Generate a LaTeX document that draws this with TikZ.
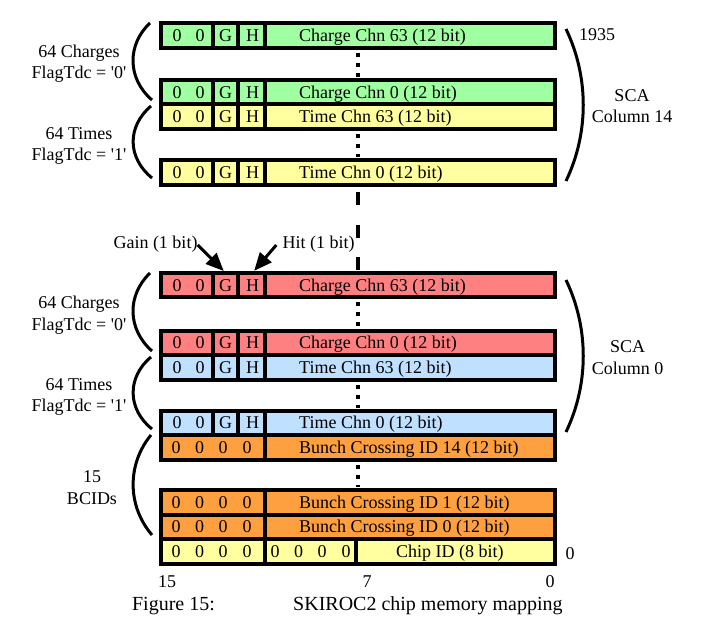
\documentclass[tikz,border=0pt]{standalone}
\usepackage{fontspec}
\setmainfont{Liberation Serif}
\usepackage{xcolor}
\usepackage{tikz}
\usetikzlibrary{arrows.meta, positioning}

\definecolor{chggreen}{RGB}{160,255,160}
\definecolor{timeyellow}{RGB}{255,255,160}
\definecolor{chgred}{RGB}{255,128,128}
\definecolor{timeblue}{RGB}{192,224,255}
\definecolor{bcidorange}{RGB}{255,160,64}

\begin{document}
\begin{tikzpicture}[x=1pt, y=-1pt, font=\fontsize{18}{21.5}\selectfont,
    word/.style={draw, line width=4pt, minimum width=393.4pt, minimum height=24.5pt, inner sep=0pt, outer sep=0pt},
    divider/.style={line width=3.6pt},
    bit/.style={inner sep=0pt, text height=12pt, text depth=0pt},
    note/.style={align=center, inner sep=0pt},
    paren/.style={line width=3pt},
    dots/.style={line width=4pt, dash pattern=on 4pt off 6pt, shorten <=5pt, shorten >=3pt},
    breakline/.style={line width=4pt, dash pattern=on 13pt off 19.5pt},
    pointer/.style={line width=3pt, -{Triangle[length=18pt, width=15pt]}, shorten >=2.5pt},
    capt/.style={inner sep=0pt, text height=13pt, text depth=0pt, font=\fontsize{20}{24}\selectfont}]

    \useasboundingbox (0,0) rectangle (720,640);

    \foreach \n/\y/\c/\t in {c63t/35.25/chggreen/Charge Chn 63, c0t/92/chggreen/Charge Chn 0,
                             t63t/116.5/timeyellow/Time Chn 63, t0t/172.25/timeyellow/Time Chn 0,
                             c63b/285/chgred/Charge Chn 63, c0b/342.75/chgred/Charge Chn 0,
                             t63b/367.25/timeblue/Time Chn 63, t0b/422.75/timeblue/Time Chn 0}{
        \node[word, fill=\c] (\n) at (358,\y) {};
        \foreach \s in {-145,-120,-93}
            \draw[divider] ([xshift=\s pt]\n.north) -- ([xshift=\s pt]\n.south);
        \node[bit] at (177,\y) {0};
        \node[bit] at (200,\y) {0};
        \node[bit] (\n-g) at (225.5,\y) {G};
        \node[bit] (\n-h) at (252.5,\y) {H};
        \node[bit, anchor=west] at (299,\y) {\t\ (12 bit)};
    }

    \foreach \n/\y/\t in {b14/447.25/14, b1/502.25/1, b0/526.75/0}{
        \node[word, fill=bcidorange] (\n) at (358,\y) {};
        \draw[divider] ([xshift=-93pt]\n.north) -- ([xshift=-93pt]\n.south);
        \foreach \x in {176,199.5,223,247}
            \node[bit] at (\x,\y) {0};
        \node[bit, anchor=west] at (299,\y) {Bunch Crossing ID \t\ (12 bit)};
    }

    \node[word, fill=timeyellow] (chip) at (358,551.25) {};
    \foreach \s in {-93,-2}
        \draw[divider] ([xshift=\s pt]chip.north) -- ([xshift=\s pt]chip.south);
    \foreach \x in {176,199.5,223,247,275,298.5,322,346}
        \node[bit] at (\x,551.25) {0};
    \node[bit, anchor=west] at (396,551.25) {Chip ID (8 bit)};

    \draw[dots] (c63t) -- (c0t);
    \draw[dots] (t63t) -- (t0t);
    \draw[dots] (c63b) -- (c0b);
    \draw[dots] (t63b) -- (t0b);
    \draw[dots] (b14) -- (b1);
    \draw[breakline, shorten <=7.5pt, shorten >=2.75pt] (t0t) -- (c63b);

    \node[bit] (gain) at (155.5,242) {Gain (1 bit)};
    \node[bit] (hit)  at (318.5,242) {Hit (1 bit)};
    \draw[pointer] ([yshift=-3pt]gain.east) -- (c63b-g |- c63b.north);
    \draw[pointer] ([xshift=-6pt,yshift=-3pt]hit.west) -- (c63b-h |- c63b.north);

    \node[note] (chgtop)  at (79,63.5)  {64 Charges\\FlagTdc = \textquotesingle0\textquotesingle};
    \node[note] (timetop) at (79,146)   {64 Times\\FlagTdc = \textquotesingle1\textquotesingle};
    \node[note] (chgbot)  at (79,315)   {64 Charges\\FlagTdc = \textquotesingle0\textquotesingle};
    \node[note] (timebot) at (79,397)   {64 Times\\FlagTdc = \textquotesingle1\textquotesingle};
    \node[note] (bcids)   at (92,487.5) {15\\BCIDs};
    \node[note] (scatop)  at (632,106)  {SCA\\Column 14};
    \node[note] (scabot)  at (627.5,357.5) {SCA\\Column 0};
    \node[bit] (addrtop) at (597,34)  {1935};
    \node[bit] (addrbot) at (570,553) {0};

    \draw[paren] (150,23)  .. controls (127,44.5) and (127,78.5)  .. (152,100);
    \draw[paren] (151,106) .. controls (127,126.5) and (127,157.5) .. (152,178);
    \draw[paren] (150,273) .. controls (127,295) and (127,329)    .. (152,351);
    \draw[paren] (151,357) .. controls (127,377) and (127,409)    .. (152,429);
    \draw[paren] (151,435) .. controls (127,464) and (127,506)    .. (152,535);
    \draw[paren] (566,29)  .. controls (589,77) and (589,133)     .. (566,181);
    \draw[paren] (566,280) .. controls (589,328) and (589,384)    .. (566,432);

    \node[bit] (msb) at (167,581) {15};
    \node[bit] (mid) at (367,581) {7};
    \node[bit] (lsb) at (550,581) {0};

    \node[capt] (fig) at (173.5,603.5) {Figure 15:};
    \node[capt, anchor=west] (title) at (293,603.5) {SKIROC2 chip memory mapping};
\end{tikzpicture}
\end{document}
